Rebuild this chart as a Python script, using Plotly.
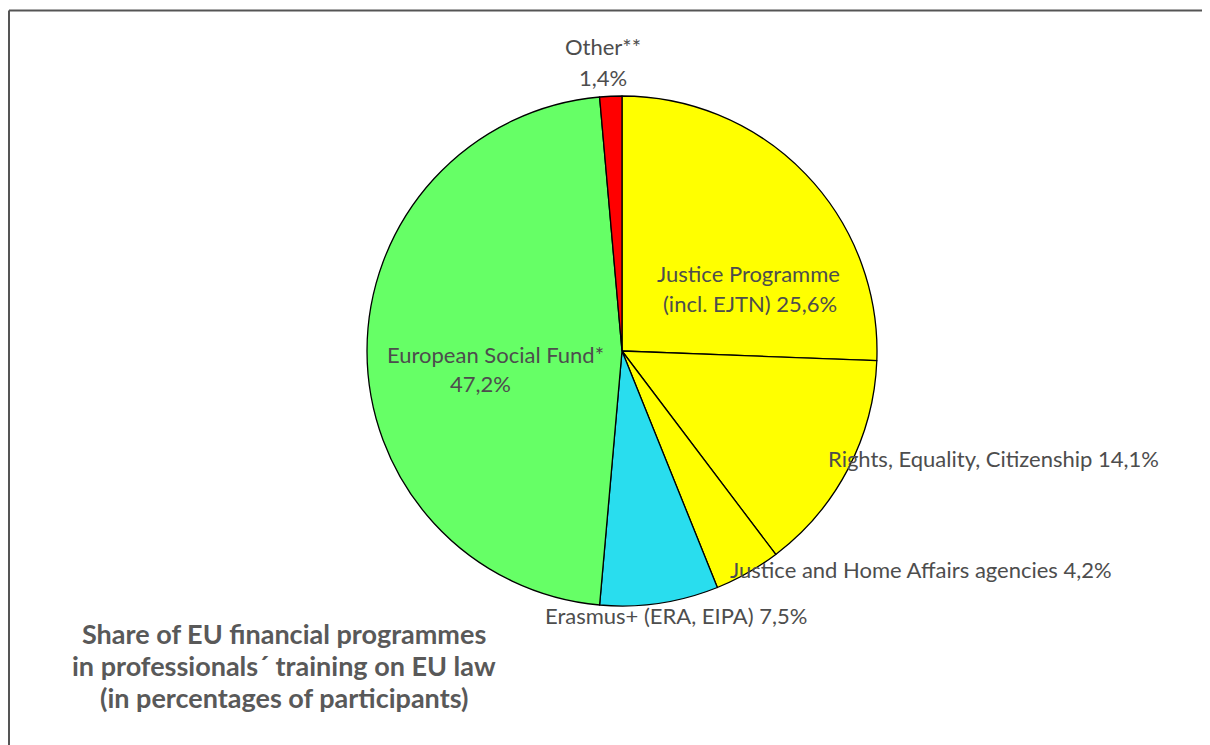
import plotly.graph_objects as go

labels = ["Justice Programme (incl. EJTN)", "Rights, Equality, Citizenship",
          "Justice and Home Affairs agencies", "Erasmus+ (ERA, EIPA)",
          "European Social Fund*", "Other**"]
values = [25.6, 14.1, 4.2, 7.5, 47.2, 1.4]
colors = ["#FFFF00", "#FFFF00", "#FFFF00", "#29DDEE", "#66FF66", "#FF0000"]

OFF = 8  # page body margin offset
W, H = 1210 - OFF, 745 - OFF
TXT = "#4D4D4D"
FONT = "Lato"


def px(x, y):
    return (x - OFF) / W, 1 - (y - OFF) / H


dx0, dy1 = px(366, 96)
dx1, dy0 = px(878, 606)

fig = go.Figure(go.Pie(
    labels=labels, values=values, sort=False, direction="clockwise", rotation=0,
    marker=dict(colors=colors, line=dict(color="#000000", width=1.3)),
    textinfo="none", hoverinfo="label+percent", showlegend=False,
    domain=dict(x=[dx0, dx1], y=[dy0, dy1]),
))

# label lines: (text, x, y, xanchor)
label_lines = [
    ("Other**", 603, 47, "center"),
    ("1,4%", 603, 77, "center"),
    ("Justice Programme", 748, 273, "center"),
    ("(incl. EJTN) 25,6%", 750, 303, "center"),
    ("European Social Fund*", 496, 354, "center"),
    ("47,2%", 480, 383, "center"),
    ("Rights, Equality, Citizenship 14,1%", 826, 458, "left"),
    ("Justice and Home Affairs agencies 4,2%", 728, 569, "left"),
    ("Erasmus+ (ERA, EIPA) 7,5%", 543, 615, "left"),
]
annotations = []
for t, x, y, xa in label_lines:
    ax, ay = px(x, y)
    annotations.append(dict(text=t, x=ax, y=ay, xref="paper", yref="paper",
                            xanchor=xa, yanchor="middle", showarrow=False,
                            font=dict(family=FONT, size=22, color=TXT)))

title_lines = ["Share of EU financial programmes",
               "in professionals\u00b4 training on EU law",
               "(in percentages of participants)"]
title_y = [633, 665, 697]
for t, y in zip(title_lines, title_y):
    ax, ay = px(284, y)
    annotations.append(dict(text="<b>" + t + "</b>", x=ax, y=ay, xref="paper", yref="paper",
                            xanchor="center", yanchor="middle", showarrow=False,
                            font=dict(family=FONT, size=27, color="#595959")))

fx, fy = px(9, 10.5)
rx, _ = px(1230, 10.5)
_, by = px(9, 760)
shapes = [
    dict(type="line", xref="paper", yref="paper", x0=fx, x1=rx, y0=fy, y1=fy,
         line=dict(color="#555555", width=2)),
    dict(type="line", xref="paper", yref="paper", x0=fx, x1=fx, y0=by, y1=fy,
         line=dict(color="#555555", width=2)),
]

fig.update_layout(width=W, height=H, margin=dict(l=0, r=0, t=0, b=0),
                  paper_bgcolor="white", plot_bgcolor="white",
                  annotations=annotations, shapes=shapes)
fig.write_html("out.html")
